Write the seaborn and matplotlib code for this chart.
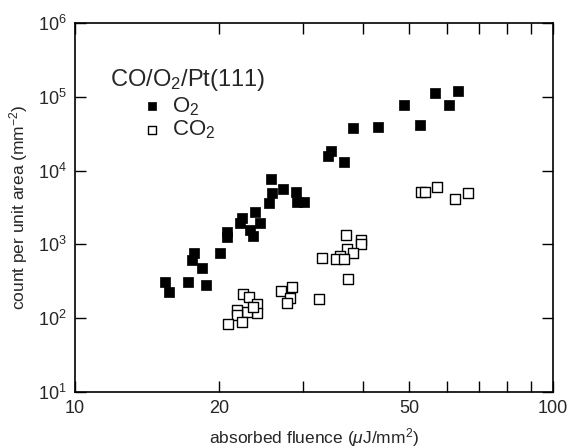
import matplotlib
matplotlib.use("Agg")
import matplotlib.pyplot as plt
import seaborn as sns
import numpy as np
import pandas as pd
from matplotlib.ticker import FixedLocator, FixedFormatter, NullFormatter, NullLocator

# values (fluence in uJ/mm2, counts per mm2)
o2_fluence = [15.4, 15.7, 17.2, 18.8, 17.7, 17.6, 18.4, 20.1, 20.8, 20.8,
              22.4, 22.1, 23.8, 24.4, 23.2, 23.6, 25.7, 25.8, 25.5, 27.2,
              29.0, 29.1, 30.1, 34.3, 33.8, 36.5, 38.2, 43.0, 48.8, 52.7,
              56.6, 60.6, 63.3]
o2_count = [309, 226, 309, 282, 764, 614, 479, 764, 1470, 1260,
            2280, 1950, 2750, 1950, 1570, 1300, 7690, 4970, 3640, 5630,
            5130, 3750, 3750, 18400, 15800, 13100, 37800, 39000, 77400, 41500,
            112600, 77400, 119800]

co2_fluence = [36.9, 39.6, 39.6, 37.1, 38.2, 35.8, 35.2, 36.5, 32.9, 37.2,
               32.4, 28.4, 27.0, 28.2, 27.8, 22.5, 23.1, 24.0, 24.0, 22.9,
               23.6, 21.8, 21.8, 22.4, 20.9, 52.9, 54.0, 57.2, 62.4, 66.4]
co2_count = [1340, 1150, 1010, 866, 764, 696, 634, 634, 654, 340,
             182, 265, 234, 188, 161, 213, 194, 156, 118, 121,
             142, 129, 110, 89, 84, 5130, 5130, 5990, 4120, 4970]

x_major = [10, 20, 50, 100]
x_minor = [30, 40, 60, 70, 80, 90]
y_major = [1e1, 1e2, 1e3, 1e4, 1e5, 1e6]
y_labels = [r"$\mathregular{10^{%d}}$" % k for k in range(1, 7)]

sns.set_theme(style="ticks")
plt.rcParams["font.family"] = ["Liberation Sans", "DejaVu Sans"]
plt.rcParams["mathtext.fontset"] = "custom"
plt.rcParams["mathtext.rm"] = "Liberation Sans"
plt.rcParams["mathtext.it"] = "Liberation Sans:italic"

fig = plt.figure(figsize=(5.7, 4.48), dpi=100)
ax = fig.add_axes([0.1316, 0.125, 0.8386, 0.8237])

sns.scatterplot(x=o2_fluence, y=o2_count, marker="s", s=58, color="black",
                edgecolor="black", linewidth=0.5, ax=ax, label="O$_2$")
sns.scatterplot(x=co2_fluence, y=co2_count, marker="s", s=52, color="white",
                edgecolor="black", linewidth=1.0, ax=ax, label="CO$_2$")

ax.set_xscale("log")
ax.set_yscale("log")
ax.set_xlim(10, 100)
ax.set_ylim(10, 1e6)

ax.xaxis.set_major_locator(FixedLocator(x_major))
ax.xaxis.set_major_formatter(FixedFormatter([str(v) for v in x_major]))
ax.xaxis.set_minor_locator(FixedLocator(x_minor))
ax.xaxis.set_minor_formatter(NullFormatter())
ax.yaxis.set_major_locator(FixedLocator(y_major))
ax.yaxis.set_major_formatter(FixedFormatter(y_labels))
ax.yaxis.set_minor_locator(NullLocator())

ax.tick_params(which="both", direction="in", top=True, right=True,
               length=8, width=1.0, color="black", labelsize=13, pad=6)
for sp in ax.spines.values():
    sp.set_linewidth(1.2)
    sp.set_color("black")

ax.set_xlabel(r"absorbed fluence ($\mu$J/mm$^2$)", fontsize=12.5, labelpad=6)
ax.set_ylabel(r"count per unit area (mm$^{-2}$)", fontsize=12.5, labelpad=6)

ax.text(0.073, 0.8455, "CO/O$_2$/Pt(111)", transform=ax.transAxes,
        va="center", ha="left", fontsize=17)
ax.legend(loc="upper left", bbox_to_anchor=(0.1416, 0.805), frameon=False,
          fontsize=16, handlelength=0.8, handletextpad=0.5, labelspacing=0.05,
          borderpad=0, borderaxespad=0, markerscale=0.8)

fig.savefig("out.png", dpi=100)
